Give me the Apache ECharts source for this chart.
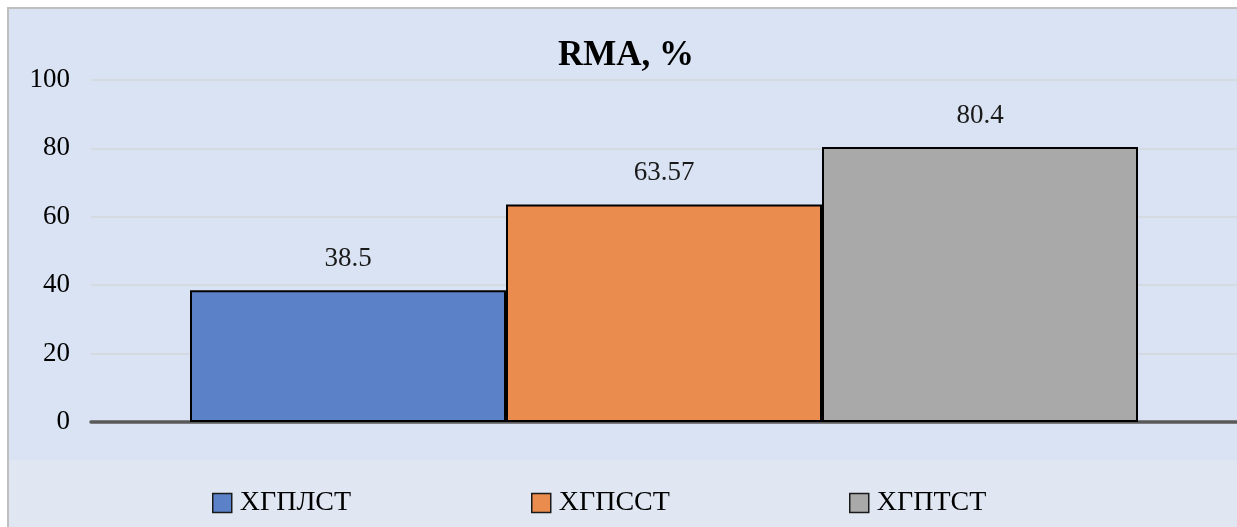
<!DOCTYPE html>
<html><head><meta charset="utf-8">
<script src="https://cdn.jsdelivr.net/npm/echarts@6/dist/echarts.min.js"></script>
<style>html,body{margin:0;padding:0;background:#fff}#c{width:1237px;height:527px}</style>
</head><body><div id="c"></div>
<script>
const categories = [''];
const seriesNames = ['ХГПЛСТ', 'ХГПССТ', 'ХГПТСТ'];
const seriesValues = [38.5, 63.57, 80.4];
const seriesLabels = ['38.5', '63.57', '80.4'];
const colors = ['#5b82c9', '#e98c4e', '#a9a9a9'];
const yTicks = { min: 0, max: 100, interval: 20 };

const FONT = '"Liberation Serif", "Times New Roman", serif';
const chart = echarts.init(document.getElementById('c'));
const legendLefts = [207, 526, 844];
chart.setOption({
  backgroundColor: '#ffffff',
  animation: false,
  graphic: [
    { type: 'rect', z: -10, shape: { x: 8, y: 8, width: 1240, height: 530 }, style: { fill: '#dae3f3', stroke: '#bfbfbf', lineWidth: 2 } },
    { type: 'rect', z: -9, shape: { x: 9, y: 460, width: 1240, height: 80 }, style: { fill: '#e0e7f3' } }
  ],
  title: {
    text: 'RMA, %', left: 621, top: 33, textAlign: 'center',
    textStyle: { fontFamily: FONT, fontSize: 35, fontWeight: 'bold', color: '#000' }
  },
  legend: seriesNames.map((n, i) => ({
    data: [n], left: legendLefts[i], top: 484, itemWidth: 19, itemHeight: 19, itemGap: 0,
    icon: 'rect',
    itemStyle: { borderColor: '#1a1a1a', borderWidth: 1.5 },
    textStyle: { fontFamily: FONT, fontSize: 28, color: '#000', padding: [3, 0, 0, 3] }
  })),
  grid: { left: 91, right: -3, top: 80, bottom: 105, containLabel: false },
  xAxis: {
    type: 'category', data: categories,
    axisLine: { lineStyle: { color: '#595959', width: 3.5 } },
    axisTick: { show: false }, axisLabel: { show: false }
  },
  yAxis: {
    type: 'value', min: yTicks.min, max: yTicks.max, interval: yTicks.interval,
    axisLine: { show: false }, axisTick: { show: false },
    axisLabel: { fontFamily: FONT, fontSize: 27, color: '#000', margin: 21 },
    splitLine: { lineStyle: { color: '#d3d6da', width: 1.5 } }
  },
  series: seriesNames.map((n, i) => ({
    name: n, type: 'bar', data: [seriesValues[i]],
    barWidth: 316, barGap: '0%',
    itemStyle: { color: colors[i], borderColor: '#000', borderWidth: 2 },
    label: {
      show: true, position: 'top', distance: 18,
      formatter: () => seriesLabels[i],
      fontFamily: FONT, fontSize: 27, color: '#1a1a1a'
    }
  }))
});
</script></body></html>
